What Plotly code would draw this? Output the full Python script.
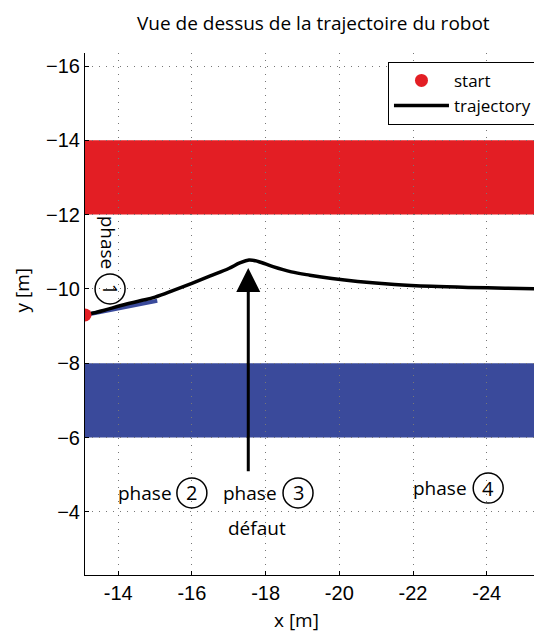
import plotly.graph_objects as go

# trajectory of the robot (top view)
traj_x = [-13.1, -13.6, -14.1, -14.6, -15.0, -15.5, -16.0, -16.5, -17.0, -17.3, -17.55,
          -17.8, -18.2, -18.7, -19.2, -19.8, -20.5, -21.5, -22.5, -23.5, -24.5, -25.5]
traj_y = [-9.3, -9.42, -9.56, -9.68, -9.78, -9.96, -10.15, -10.35, -10.55, -10.7, -10.78,
          -10.74, -10.6, -10.46, -10.37, -10.28, -10.2, -10.12, -10.07, -10.04, -10.02, -10.0]
start_x = [-13.1]
start_y = [-9.3]
dir_x = [-13.1, -15.06]
dir_y = [-9.3, -9.68]

red_band = [-14, -12]
blue_band = [-8, -6]

arrow_x = -17.53
arrow_from = -5.05
arrow_to = -10.56

# phase labels: text position, circle position, number
phase_num = ["2", "3", "4"]
phase_text_x = [-14.73, -17.58, -22.73]
phase_text_y = [-4.51, -4.51, -4.64]
phase_circ_x = [-16.0, -18.88, -24.04]

x_ticks = [-14, -16, -18, -20, -22, -24]
x_ticktext = ["-14", "-16", "-18", "-20", "-22", "-24"]
y_ticks = [-16, -14, -12, -10, -8, -6, -4]

txt_font = "Open Sans"
RED = "#e31e24"
BLUE = "#3a4a9b"

fig = go.Figure()
fig.add_trace(go.Scatter(x=dir_x, y=dir_y, mode="lines", line=dict(color=BLUE, width=4),
                         showlegend=False))
fig.add_trace(go.Scatter(x=traj_x, y=traj_y, mode="lines", name="trajectory",
                         line=dict(color="black", width=3.5, shape="spline")))
fig.add_trace(go.Scatter(x=start_x, y=start_y, mode="markers", name="start",
                         marker=dict(color=RED, size=13)))

fig.add_shape(type="rect", xref="paper", x0=0, x1=1, y0=red_band[0], y1=red_band[1],
              fillcolor=RED, line_width=0, layer="below")
fig.add_shape(type="rect", xref="paper", x0=0, x1=1, y0=blue_band[0], y1=blue_band[1],
              fillcolor=BLUE, line_width=0, layer="below")

fig.add_annotation(x=arrow_x, y=arrow_to, ax=arrow_x, ay=arrow_from, axref="x", ayref="y",
                   showarrow=True, arrowhead=2, arrowsize=1.6, arrowwidth=3, arrowcolor="black",
                   text="")

def circle(x, y, num, angle=0):
    fig.add_shape(type="circle", xsizemode="pixel", ysizemode="pixel", xanchor=x, yanchor=y,
                  x0=-15, x1=15, y0=-15, y1=15, line=dict(color="black", width=1.5))
    fig.add_annotation(x=x, y=y, text=num, showarrow=False, textangle=angle,
                       font=dict(family=txt_font, size=20, color="black"))

for t, tx, ty, cx in zip(phase_num, phase_text_x, phase_text_y, phase_circ_x):
    fig.add_annotation(x=tx, y=ty, text="phase", showarrow=False,
                       font=dict(family=txt_font, size=19, color="black"))
    circle(cx, ty, t)

# phase 1, rotated
fig.add_annotation(x=-13.72, y=-11.25, text="phase", showarrow=False, textangle=90,
                   font=dict(family=txt_font, size=19, color="black"))
circle(-13.78, -10.0, "1", angle=90)

fig.add_annotation(x=-17.77, y=-3.56, text="défaut", showarrow=False,
                   font=dict(family=txt_font, size=19, color="black"))

# title and axis titles
fig.add_annotation(xref="paper", yref="paper", x=0.5, y=1.0862, text="Vue de dessus de la trajectoire du robot",
                   xanchor="center", yanchor="top", showarrow=False,
                   font=dict(family=txt_font, size=19, color="black"))
fig.add_annotation(xref="paper", yref="paper", x=0.462, y=-0.086, text="x [m]",
                   xanchor="center", yanchor="middle",
                   showarrow=False, font=dict(family=txt_font, size=19, color="black"))
fig.add_annotation(xref="paper", yref="paper", x=-0.138, y=0.545, text="y [m]", textangle=-90,
                   xanchor="center", yanchor="middle",
                   showarrow=False, font=dict(family=txt_font, size=19, color="black"))

grid = dict(showgrid=True, gridcolor="#777777", gridwidth=1, griddash="1px,6px", zeroline=False,
            showline=True, linecolor="black", linewidth=1, mirror=False, automargin=False,
            ticks="inside", ticklen=4, tickcolor="black")

# the page body adds an 8px margin, so the figure is 8px smaller than the window
fig.update_layout(
    width=534, height=626,
    margin=dict(l=77, r=0, t=45, b=59),
    paper_bgcolor="white", plot_bgcolor="white",
    xaxis=dict(range=[-13.1, -25.5], tickvals=x_ticks, ticktext=x_ticktext,
               tickfont=dict(family="Liberation Sans", size=20, color="black"), **grid),
    yaxis=dict(range=[-2.3, -16.35], tickvals=y_ticks,
               tickfont=dict(family="Liberation Sans", size=20, color="black"), **grid),
    legend=dict(x=0.989, y=0.983, xanchor="right", yanchor="top", bgcolor="white",
                bordercolor="black", borderwidth=1, traceorder="reversed", itemwidth=55,
                tracegroupgap=0,
                font=dict(family=txt_font, size=17, color="black")),
)

fig.write_html("out.html")
